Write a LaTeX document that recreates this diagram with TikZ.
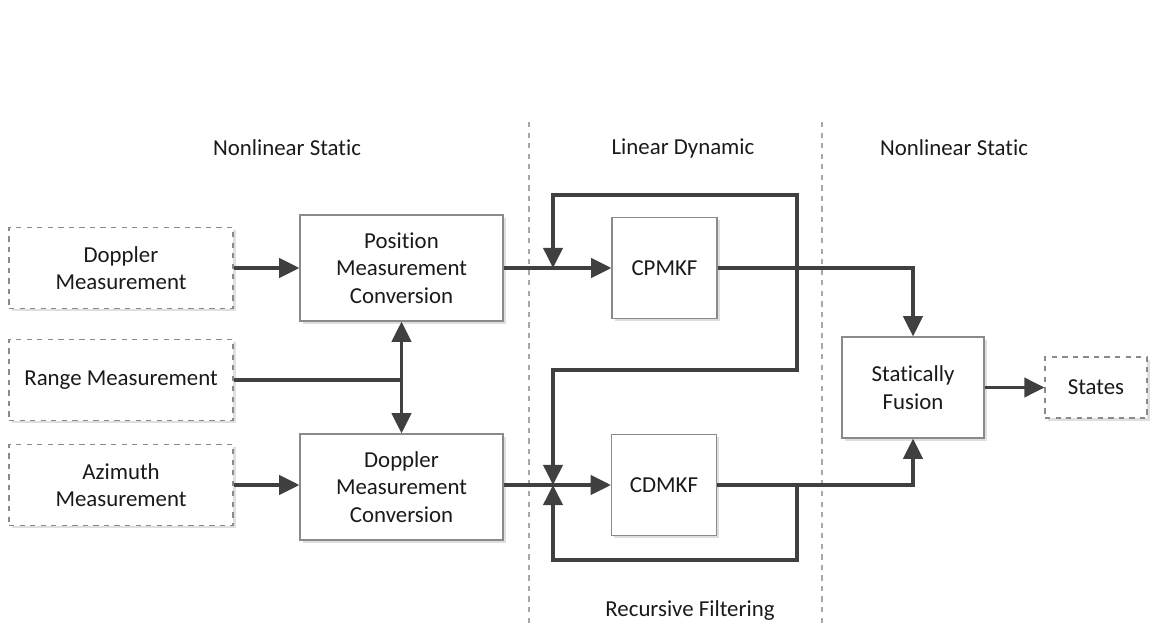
\documentclass[tikz,border=0pt]{standalone}
\usepackage{fontspec}
\setmainfont{Carlito}[Ligatures={NoCommon,NoContextual}]
\usepackage{tikz}
\usetikzlibrary{positioning, arrows.meta, shadows, calc}
\usepackage{xcolor}
\definecolor{linecol}{HTML}{404040}
\definecolor{edgecol}{HTML}{8A8A8A}
\definecolor{divcol}{HTML}{A8A8A8}
\definecolor{textcol}{HTML}{1A1A1A}
\tikzset{
  % dashed box = measurement input / output
  srcbox/.style={draw=edgecol, dashed, fill=white, line width=0.6pt,
                 align=center, inner sep=0pt, text=textcol,
                 drop shadow={shadow xshift=1.6pt, shadow yshift=-1.6pt, fill=black!25}},
  % solid box = processing block
  procbox/.style={draw=edgecol, fill=white, line width=0.7pt,
                  align=center, inner sep=0pt, text=textcol,
                  drop shadow={shadow xshift=1.6pt, shadow yshift=-1.6pt, fill=black!25}},
  % thick connector
  flow/.style={draw=linecol, line width=1.9pt,
               arrows={-Triangle[length=11.5pt, width=11pt]}},
  % vertical divider between regions
  divider/.style={divcol, dashed, line width=0.6pt},
}

\begin{document}
\begin{tikzpicture}[font=\fontsize{13pt}{15.6pt}\selectfont, text=textcol]
  \useasboundingbox (0,0) rectangle (23.16,-12.48);
  % region dividers and titles
  \draw[divider] (10.58,-2.44) -- (10.58,-12.48);
  \draw[divider] (16.44,-2.44) -- (16.44,-12.48);
  \node (ttlA) at (5.74,-2.96) {Nonlinear Static};
  \node (ttlB) at (13.66,-2.96) {Linear Dynamic};
  \node (ttlC) at (19.08,-2.96) {Nonlinear Static};
  \node (ttlD) at (13.80,-12.22) {Recursive Filtering};
  % inputs
  \node[srcbox, minimum width=4.48cm, minimum height=1.62cm] (dop) at (2.42,-5.36)
    {Doppler\\Measurement};
  \node[srcbox, minimum width=4.48cm, minimum height=1.62cm] (rng) at (2.42,-7.6)
    {Range Measurement};
  \node[srcbox, minimum width=4.48cm, minimum height=1.62cm] (azi) at (2.42,-9.7)
    {Azimuth\\Measurement};
  % conversions
  \node[procbox, minimum width=4.06cm, minimum height=2.12cm] (pmc) at (8.03,-5.36)
    {Position\\Measurement\\Conversion};
  \node[procbox, minimum width=4.06cm, minimum height=2.12cm] (dmc) at (8.03,-9.74)
    {Doppler\\Measurement\\Conversion};
  % filters
  \node[procbox, minimum width=2.1cm, minimum height=2.02cm] (cpm) at (13.29,-5.36) {CPMKF};
  \node[procbox, minimum width=2.1cm, minimum height=2.02cm] (cdm) at (13.28,-9.7) {CDMKF};
  % fusion and output
  \node[procbox, minimum width=2.84cm, minimum height=2.02cm] (fus) at (18.26,-7.75)
    {Statically\\Fusion};
  \node[srcbox, minimum width=2.04cm, minimum height=1.22cm] (sts) at (21.92,-7.75) {States};
  % junction points
  \coordinate (jnP) at (11.06,-5.36);
  \coordinate (jnD) at (11.06,-9.7);
  \coordinate (tapP) at (15.94,-5.36);
  \coordinate (tapD) at (15.94,-9.7);
  \coordinate (rngJ) at (pmc.south |- rng.east);
  % connectors
  \draw[flow] (dop.east) -- (pmc.west);
  \draw[flow, arrows=-] (rng.east) -- (rngJ);
  \draw[flow, arrows={Triangle[length=11.5pt, width=11pt]-Triangle[length=11.5pt, width=11pt]}]
    (pmc.south) -- (dmc.north);
  \draw[flow] (azi.east) -- (azi.east -| dmc.west);
  \draw[flow] (pmc.east) -- (cpm.west);
  \draw[flow] (dmc.east |- cdm.west) -- (cdm.west);
  \draw[flow] (tapP) |- (11.06,-3.9) -- (jnP);
  \draw[flow] (tapP) -- (15.94,-7.4) -| (jnD);
  \draw[flow] (tapD) |- (11.06,-11.2) -- (jnD);
  \draw[flow] (cpm.east) -| (fus.north);
  \draw[flow] (cdm.east) -| (fus.south);
  \draw[flow] (fus.east) -- (sts.west);
\end{tikzpicture}
\end{document}
